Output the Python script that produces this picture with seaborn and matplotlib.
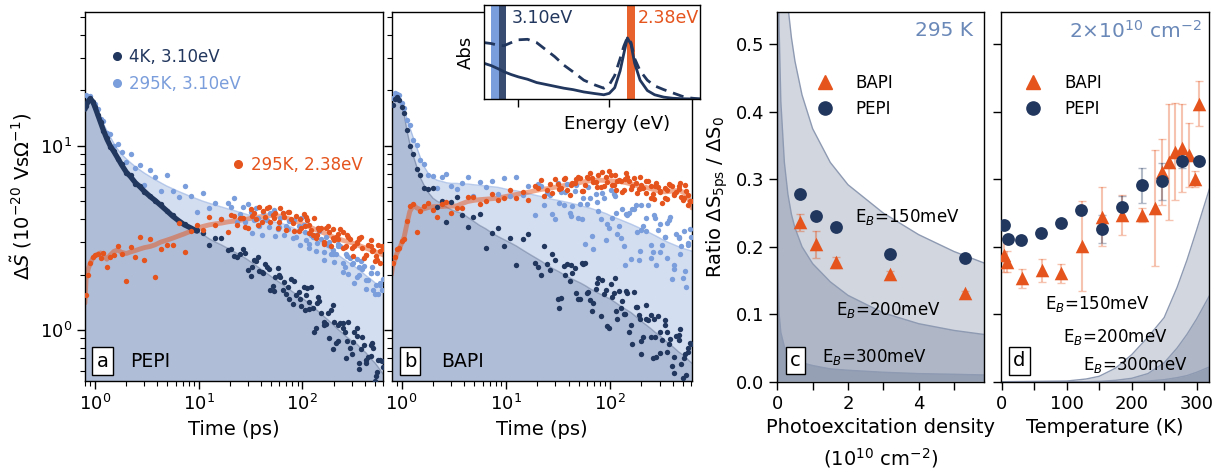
import numpy as np
import matplotlib
matplotlib.use("Agg")
import matplotlib.pyplot as plt
from matplotlib.lines import Line2D
from matplotlib.ticker import LogLocator, MultipleLocator, NullFormatter
import seaborn as sns

# colours
NAVY = "#22375e"
LIGHT = "#7a9ddb"
ORANGE = "#e5541d"
FILL_DARK = "#b0bdd7"
FILL_LIGHT = "#d4def1"
SHADE = "#4a5e80"
EDGE = "#8e9ab2"
STEEL = "#6a88b8"

# ---------------- panels a, b : photoconductivity transients ----------------
scatter_t = [0.82, 0.86, 0.9, 0.95, 1.0, 1.06, 1.13, 1.2, 1.3, 1.4, 1.52, 1.65, 1.8, 2.0, 2.2,
             2.45, 2.7, 3.0, 3.4, 3.8, 4.3, 4.9, 5.6, 6.4, 7.3, 8.4, 9.6, 11, 12.6, 14.5,
             16.5, 19, 22, 25, 28, 32, 36, 41, 46, 52, 58, 65, 73, 82, 92,
             103, 115, 128, 143, 160, 178, 198, 220, 245, 272, 302, 335, 372, 412, 456,
             505, 560]
late_t = [20.5, 23.5, 26.5, 30, 34, 38.5, 43.5, 49, 55, 61.5, 69, 77.5, 87, 97.5, 109,
          121.5, 135.5, 151, 169, 188, 209, 232, 258, 287, 318, 353, 392, 434, 480, 530, 585]
late2_t = [32.5, 37, 42, 47.5, 53.5, 60, 67, 75, 84, 94, 105, 112, 117, 130, 138, 145, 162, 180,
           196, 200, 222, 247, 265, 275, 305, 338, 355, 375, 415, 460, 470, 510, 540, 565, 595]
trend_t = [0.8] + scatter_t + [610]

# PEPI (panel a) smoothed traces
pepi_4k_trend = [15.8, 16.5, 17.5, 18.0, 17.4, 16.2, 14.8, 13.4, 12.2, 10.9, 10.0, 9.3, 8.6, 7.9, 7.2, 6.8,
                 6.3, 6.0, 5.65, 5.3, 5.05, 4.75, 4.45, 4.15, 3.92, 3.72, 3.58, 3.44, 3.3, 3.13, 3.0,
                 2.9, 2.78, 2.66, 2.55, 2.46, 2.34, 2.23, 2.11, 2.02, 1.92, 1.84, 1.76, 1.68, 1.6, 1.53,
                 1.47, 1.4, 1.33, 1.26, 1.19, 1.13, 1.07, 1.01, 0.96, 0.91, 0.87, 0.84, 0.79, 0.75, 0.7,
                 0.66, 0.61, 0.57]
pepi_rt_trend = [18.3, 18.5, 18.6, 18.3, 17.7, 16.7, 15.5, 14.3, 13.2, 12.1, 11.2, 10.3, 9.6, 9.0, 8.5, 8.1,
                 7.7, 7.4, 7.1, 6.8, 6.55, 6.3, 6.05, 5.85, 5.65, 5.48, 5.3, 5.15, 5.0, 4.88, 4.76,
                 4.66, 4.55, 4.45, 4.35, 4.27, 4.17, 4.08, 3.99, 3.93, 3.87, 3.82, 3.77, 3.68, 3.58, 3.48,
                 3.37, 3.26, 3.15, 3.04, 2.92, 2.8, 2.68, 2.56, 2.45, 2.35, 2.26, 2.17, 2.07, 1.97, 1.89,
                 1.8, 1.7, 1.62]
pepi_or_trend = [1.4, 1.9, 2.15, 2.3, 2.45, 2.52, 2.58, 2.62, 2.55, 2.42, 2.55, 2.67, 2.72, 2.64, 2.6, 2.65,
                 2.7, 2.75, 2.8, 2.84, 2.9, 3.0, 3.07, 3.15, 3.24, 3.33, 3.44, 3.56, 3.65, 3.72, 3.77,
                 3.8, 3.86, 3.9, 3.94, 3.98, 4.04, 4.09, 4.14, 4.17, 4.18, 4.16, 4.12, 4.03, 3.94, 3.84,
                 3.74, 3.64, 3.55, 3.45, 3.37, 3.28, 3.2, 3.13, 3.07, 3.02, 2.97, 2.9, 2.84, 2.78, 2.72,
                 2.66, 2.6, 2.55]
# PEPI measured points (scatter_t, then late_t, then late2_t)
pepi_4k_pts = [16.4, 17.6, 18.1, 17.3, 16.3, 14.7, 13.5, 12.1, 11.0, 9.9, 9.4, 8.5, 8.0, 7.1, 6.9,
               6.2, 6.05, 5.6, 5.35, 5.0, 4.8, 4.4, 4.2, 3.85, 3.78, 3.52, 3.5,
               3.36, 2.90, 3.14, 3.16, 2.71, 2.52, 2.57, 2.62, 1.97, 2.36, 2.07, 2.20, 1.73, 2.17, 1.64,
               1.71, 1.39, 1.61, 1.72, 1.30, 1.31, 1.51, 1.06, 1.24, 0.79, 1.07, 1.09, 0.87, 0.74, 1.03,
               0.79, 0.69, 0.83, 0.53, 0.69,
               2.75, 2.48, 2.76, 2.11, 2.39, 2.08, 2.29, 1.64, 1.94, 1.94, 1.57, 1.89, 1.54, 1.35, 1.55,
               1.72, 1.02, 1.24, 1.08, 1.28, 0.85, 1.09, 0.98, 0.80, 0.97, 0.61, 0.83, 0.71, 0.80, 0.59, 0.68,
               2.21, 2.50, 2.05, 2.14, 1.62, 1.98, 1.81, 1.48, 1.84, 1.47, 1.28, 1.68, 1.41, 0.98, 1.40,
               1.44, 1.11, 0.90, 1.36, 1.11, 0.87, 1.03, 0.70, 1.10, 0.86, 0.93, 0.66, 0.92, 0.66, 0.72,
               0.85, 0.56, 0.69, 0.48, 0.63]
pepi_rt_pts = [18.8, 18.3, 18.6, 17.2, 16.9, 15.8, 14.0, 13.6, 11.8, 11.6, 10.0, 10.2, 9.3,
               8.12, 9.05, 7.56, 7.87, 6.14, 7.35, 6.79, 5.68, 6.92, 5.69, 5.24, 6.07, 5.35, 4.36,
               5.55, 4.59, 4.90, 4.01, 4.91, 5.21, 4.26, 3.84, 4.38, 4.61, 3.27, 3.93, 4.22, 3.55, 4.34,
               3.53, 3.15, 3.69, 3.71, 2.77, 3.21, 3.59, 2.66, 2.91, 2.60, 2.87, 2.06, 2.51, 2.28, 1.93,
               2.36, 1.87, 2.04, 1.57, 1.75,
               4.64, 3.87, 4.65, 4.85, 3.96, 3.67, 4.00, 4.33, 3.23, 4.03, 3.65, 3.96, 3.18, 4.04, 3.08,
               3.26, 2.70, 3.13, 3.20, 2.60, 2.59, 2.85, 2.21, 2.46, 1.79, 2.20, 2.22, 1.87, 1.65, 2.03, 1.65,
               3.34, 4.06, 4.37, 3.62, 4.50, 3.64, 3.26, 3.90, 3.95, 2.89, 3.42, 3.94, 2.92, 3.27, 2.98,
               3.43, 2.40, 3.00, 2.72, 2.35, 2.94, 2.31, 2.58, 2.01, 2.32, 2.42, 1.98, 2.13, 1.67, 2.05,
               2.21, 1.75, 1.56, 1.79, 1.89]
pepi_or_pts = [1.55, 2.0, 2.32, 2.5, 2.55, 2.6, 2.45, 2.62, 2.2, 2.48, 2.55, 2.85, 2.6, 1.85, 2.82,
               2.5, 3.2, 2.4, 3.1, 1.95, 2.75, 2.9, 2.9, 3.8, 2.65, 3.45, 3.7,
               3.50, 4.11, 3.71, 4.01, 3.40, 4.18, 4.07, 3.63, 4.56, 3.99, 3.88, 4.57, 4.21, 3.59, 4.32,
               4.35, 3.81, 3.44, 4.28, 3.73, 3.29, 3.59, 2.94, 3.65, 3.17, 3.33, 2.78, 3.29, 2.80, 2.95,
               3.18, 2.56, 2.85, 2.36, 2.68,
               4.22, 3.73, 4.06, 3.56, 4.32, 4.67, 4.08, 3.85, 4.34, 4.57, 3.49, 3.99, 4.17, 3.58, 4.13,
               3.48, 3.16, 3.57, 3.59, 2.85, 3.21, 3.55, 2.83, 3.10, 2.87, 3.16, 2.45, 2.90, 2.71, 2.40, 2.87,
               4.14, 3.71, 4.40, 4.67, 4.05, 3.85, 4.13, 4.37, 3.43, 4.00, 3.66, 3.93, 3.34, 4.05, 3.29,
               3.51, 3.01, 3.40, 3.52, 3.07, 3.10, 3.41, 2.84, 3.19, 2.52, 2.99, 3.11, 2.77, 2.54, 3.07,
               2.70, 2.53, 2.90, 2.31, 2.76]

# BAPI (panel b) smoothed traces
bapi_4k_trend = [16.0, 16.8, 17.8, 18.3, 18.0, 16.5, 14.8, 12.0, 10.3, 8.8, 7.7, 6.7, 6.1, 5.6, 5.2, 5.0,
                 4.85, 4.65, 4.5, 4.38, 4.3, 4.1, 3.9, 3.7, 3.55, 3.38, 3.22, 3.1, 2.98, 2.86, 2.72,
                 2.6, 2.48, 2.36, 2.25, 2.16, 2.08, 2.0, 1.92, 1.86, 1.8, 1.74, 1.67, 1.61, 1.56, 1.51,
                 1.46, 1.4, 1.34, 1.29, 1.24, 1.18, 1.12, 1.07, 1.02, 0.97, 0.93, 0.88, 0.84, 0.8, 0.76,
                 0.73, 0.69, 0.66]
bapi_rt_trend = [17.5, 18.0, 19.0, 19.3, 18.8, 17.4, 15.8, 14.0, 12.6, 11.0, 9.8, 8.6, 7.7, 7.1, 6.7, 6.5,
                 6.4, 6.3, 6.25, 6.25, 6.2, 6.2, 6.15, 6.1, 6.05, 6.0, 5.95, 5.85, 5.75, 5.7, 5.6,
                 5.5, 5.4, 5.3, 5.2, 5.12, 5.05, 4.98, 4.9, 4.82, 4.74, 4.66, 4.58, 4.48, 4.38, 4.28,
                 4.15, 4.05, 3.95, 3.85, 3.75, 3.65, 3.55, 3.45, 3.35, 3.25, 3.15, 3.05, 2.97, 2.9, 2.83,
                 2.77, 2.72, 2.68]
bapi_or_trend = [2.0, 2.2, 2.4, 2.6, 2.75, 2.95, 3.2, 3.8, 4.4, 4.75, 4.6, 4.5, 4.55, 4.62, 4.67, 4.68,
                 4.68, 4.7, 4.7, 4.72, 4.85, 4.98, 5.05, 5.1, 5.13, 5.16, 5.2, 5.28, 5.36, 5.44, 5.52,
                 5.6, 5.7, 5.8, 5.85, 5.92, 6.0, 6.08, 6.18, 6.25, 6.32, 6.4, 6.46, 6.5, 6.5, 6.48,
                 6.45, 6.42, 6.38, 6.3, 6.2, 6.1, 6.0, 5.95, 5.85, 5.75, 5.65, 5.62, 5.65, 5.7, 5.72,
                 5.6, 5.3, 4.6]
bapi_4k_pts = [16.6, 17.9, 18.4, 17.7, 16.2, 15.0, 12.2, 10.0, 9.0, 7.5, 6.9, 5.9, 5.8,
               5.89, 4.64, 5.02, 3.87, 4.93, 5.27, 4.20, 3.61, 4.13, 4.28, 2.78, 3.38, 3.57, 2.84,
               3.14, 2.24, 3.11, 3.30, 2.30, 1.98, 2.29, 2.59, 1.48, 2.22, 1.85, 2.16, 1.48, 2.30, 1.46,
               1.67, 1.19, 1.65, 1.78, 1.27, 1.32, 1.62, 1.06, 1.33, 0.74, 1.15, 1.20, 0.92, 0.75, 1.13,
               0.84, 0.71, 0.94, 0.55, 0.80,
               2.20, 2.84, 2.12, 2.39, 1.49, 2.28, 2.03, 1.47, 2.28, 1.61, 1.40, 1.92, 1.56, 1.03, 1.58,
               1.62, 1.22, 0.97, 1.60, 1.21, 0.92, 1.13, 0.70, 1.19, 0.88, 0.98, 0.64, 0.93, 0.65, 0.74, 0.85,
               1.32, 1.98, 2.25, 1.59, 2.31, 1.58, 1.26, 1.79, 1.86, 1.05, 1.51, 1.92, 1.14, 1.44, 1.22,
               1.59, 0.84, 1.33, 1.15, 0.87, 1.36, 0.91, 1.14, 0.71, 0.98, 1.07, 0.76, 0.89, 0.58, 0.88,
               1.01, 0.70, 0.57, 0.76, 0.84]
bapi_rt_pts = [18.2, 19.3, 19.1, 18.9, 17.0, 16.1, 13.8, 12.9, 10.8, 10.1, 8.4, 8.0, 6.9,
               6.86, 5.88, 6.81, 7.06, 6.05, 5.80, 6.25, 6.75, 5.36, 6.39, 5.95, 6.43, 5.47, 6.69,
               5.32, 6.81, 5.43, 6.08, 4.19, 6.02, 5.51, 4.28, 6.26, 4.76, 4.31, 5.69, 4.84, 2.92, 5.18,
               5.47, 3.99, 3.06, 5.79, 4.32, 3.17, 4.27, 2.43, 4.77, 3.47, 4.06, 2.47, 4.04, 2.66, 3.18,
               3.95, 2.26, 3.20, 1.92, 2.96,
               6.23, 4.78, 5.39, 4.01, 5.61, 6.20, 4.71, 4.06, 5.22, 5.94, 2.74, 4.43, 5.19, 3.57, 5.45,
               3.65, 2.87, 4.30, 4.51, 2.41, 3.65, 4.75, 2.65, 3.48, 2.90, 3.80, 1.90, 3.30, 2.86, 2.08, 3.53,
               4.89, 5.63, 4.16, 6.11, 4.00, 4.84, 3.25, 4.95, 5.51, 3.78, 4.04, 5.34, 3.33, 4.55, 2.26,
               4.19, 4.56, 3.40, 2.70, 4.79, 3.44, 2.90, 4.22, 2.24, 3.76, 3.18, 2.47, 4.08, 2.13, 3.14,
               2.57, 3.44, 1.72, 2.90, 3.18]
bapi_or_pts = [2.3, 2.5, 2.75, 2.8, 3.05, 3.1, 3.9, 4.7, 4.8, 3.4, 4.4, 4.7, 4.9, 4.5, 4.1,
               4.8, 4.95, 4.3, 4.6, 4.6, 5.25, 5.3, 4.85, 5.0, 5.5, 5.05, 5.2,
               5.77, 5.21, 5.64, 5.05, 6.02, 6.49, 5.77, 5.51, 6.21, 6.63, 5.40, 6.25, 6.72, 6.09, 7.14,
               6.32, 5.95, 6.75, 6.90, 5.75, 6.47, 7.09, 5.81, 6.27, 5.87, 6.45, 5.19, 6.03, 5.69, 5.19,
               6.20, 5.50, 6.04, 5.09, 5.41,
               5.87, 5.34, 6.21, 6.59, 5.87, 5.74, 6.26, 6.76, 5.65, 6.70, 6.39, 6.91, 6.04, 7.29, 6.12,
               6.49, 5.76, 6.47, 6.67, 5.84, 5.93, 6.48, 5.48, 5.98, 4.88, 5.79, 6.07, 5.59, 5.24, 6.12, 5.00,
               5.80, 6.66, 6.10, 6.57, 5.67, 6.81, 6.65, 6.00, 7.23, 6.34, 6.09, 6.97, 6.45, 5.61, 6.60,
               6.73, 6.02, 5.54, 6.77, 6.13, 5.57, 6.04, 5.13, 6.30, 5.61, 5.93, 5.16, 6.09, 5.42, 5.80,
               6.31, 5.19, 5.68, 4.78, 5.04]

# inset: absorption spectra
abs_energy = [3.19, 3.15, 3.11, 3.08, 3.04, 3.0, 2.95, 2.9, 2.85, 2.8, 2.75, 2.7, 2.64, 2.58, 2.53,
              2.5, 2.47, 2.44, 2.42, 2.40, 2.38, 2.36, 2.33, 2.29, 2.25, 2.2, 2.15, 2.1, 2.05, 2.0]
abs_dashed = [0.60, 0.59, 0.57, 0.567, 0.60, 0.63, 0.635, 0.60, 0.525, 0.45, 0.36, 0.29, 0.20, 0.15, 0.115,
              0.15, 0.25, 0.43, 0.56, 0.655, 0.60, 0.43, 0.30, 0.2, 0.14, 0.10, 0.065, 0.03, 0.01, 0.0]
abs_solid = [0.38, 0.355, 0.32, 0.29, 0.26, 0.235, 0.21, 0.175, 0.155, 0.135, 0.115, 0.1, 0.075, 0.058, 0.045,
             0.06, 0.12, 0.3, 0.48, 0.65, 0.58, 0.38, 0.2, 0.09, 0.045, 0.02, 0.008, 0.003, 0.001, 0.0]
band_rt = [3.108, 3.149]
band_4k = [3.07, 3.108]
band_green = [2.36, 2.40]
inset_ticks = [3.0, 2.5]

# ---------------- panel c : density dependence at 295 K ----------------
density = [0.65, 1.1, 1.67, 3.2, 5.31]
pepi_ratio_c = [0.278, 0.246, 0.230, 0.190, 0.184]
pepi_err_c = [0.004, 0.004, 0.004, 0.004, 0.004]
bapi_ratio_c = [0.236, 0.204, 0.177, 0.160, 0.131]
bapi_err_c = [0.012, 0.020, 0.008, 0.004, 0.004]
dens_curve = [0.0, 0.01, 0.02, 0.05, 0.1, 0.2, 0.3, 0.4, 0.5, 0.7, 1.0, 1.5, 2.0, 3.0, 4.0, 5.0, 5.85]
eb150_c = [1.0, 0.956, 0.919, 0.834, 0.74, 0.626, 0.557, 0.51, 0.475, 0.425, 0.375, 0.325, 0.292, 0.25, 0.218, 0.193, 0.176]
eb200_c = [1.0, 0.788, 0.683, 0.527, 0.415, 0.325, 0.278, 0.248, 0.228, 0.2, 0.175, 0.148, 0.128, 0.102, 0.086, 0.076, 0.07]
eb300_c = [1.0, 0.213, 0.156, 0.102, 0.073, 0.052, 0.043, 0.037, 0.033, 0.028, 0.024, 0.019, 0.017, 0.014, 0.012, 0.011, 0.010]

# ---------------- panel d : temperature dependence ----------------
temp_pepi = [3.5, 10, 30, 61, 92, 122.5, 154, 185, 216, 246.6, 277, 303]
pepi_ratio_d = [0.232, 0.211, 0.210, 0.221, 0.235, 0.255, 0.226, 0.259, 0.291, 0.297, 0.327, 0.327]
pepi_err_d = [0.004, 0.004, 0.004, 0.006, 0.005, 0.006, 0.021, 0.016, 0.026, 0.027, 0.010, 0.004]
temp_bapi = [3.5, 8.7, 31, 61.5, 92, 123, 154, 185, 216, 236, 247, 257, 267, 277, 288, 298, 303]
bapi_ratio_d = [0.188, 0.178, 0.153, 0.165, 0.161, 0.2015, 0.2445, 0.247, 0.247, 0.258, 0.311, 0.326,
                0.341, 0.346, 0.336, 0.300, 0.412]
bapi_err_d = [0.025, 0.015, 0.0136, 0.017, 0.014, 0.067, 0.044, 0.030, 0.010, 0.086, 0.049, 0.086,
              0.072, 0.065, 0.048, 0.012, 0.033]
temp_curve = [0, 100, 130, 150, 175, 200, 225, 250, 270, 285, 300, 320]
eb150_d = [0, 0.001, 0.004, 0.008, 0.02, 0.04, 0.066, 0.095, 0.14, 0.18, 0.225, 0.287]
eb200_d = [0, 0, 0, 0.0005, 0.002, 0.005, 0.012, 0.028, 0.05, 0.07, 0.093, 0.128]
eb300_d = [0, 0, 0, 0, 0, 0.0003, 0.001, 0.003, 0.006, 0.009, 0.014, 0.022]

sns.set_theme(style="ticks", rc={
    "axes.edgecolor": "black", "axes.linewidth": 1.0,
    "xtick.color": "black", "ytick.color": "black",
    "xtick.major.size": 6, "ytick.major.size": 6,
    "xtick.minor.size": 3.5, "ytick.minor.size": 3.5,
    "xtick.major.width": 1.0, "ytick.major.width": 1.0,
    "xtick.minor.width": 0.8, "ytick.minor.width": 0.8,
    "xtick.labelsize": 13, "ytick.labelsize": 13,
    "axes.labelsize": 14, "axes.labelcolor": "black", "text.color": "black",
})
plt.rcParams["font.family"] = ["DejaVu Sans"]
plt.rcParams["mathtext.fontset"] = "dejavusans"

fig = plt.figure(figsize=(12.22, 4.70), dpi=100)
ax_a = fig.add_axes([85 / 1222, 89 / 470, 298 / 1222, 369 / 470])
ax_b = fig.add_axes([392 / 1222, 89 / 470, 300 / 1222, 369 / 470], sharey=ax_a)
ax_c = fig.add_axes([777.3 / 1222, 88.3 / 470, 206.7 / 1222, 369.7 / 470])
ax_d = fig.add_axes([1001 / 1222, 88.3 / 470, 208 / 1222, 369.7 / 470], sharey=ax_c)
ax_in = fig.add_axes([484 / 1222, 371 / 470, 216 / 1222, 94 / 470])

all_t = scatter_t + late_t + late2_t


def box_label(ax, x, y, letter):
    ax.text(x, y, letter, transform=ax.transAxes, fontsize=14, ha="center", va="center", zorder=6,
            bbox=dict(boxstyle="square,pad=0.22", fc="white", ec="black", lw=1.0))


def decay_panel(ax, dark_tr, light_tr, or_tr, dark_pts, light_pts, or_pts, dense_early):
    ax.set_xscale("log")
    ax.set_yscale("log")
    ax.fill_between(trend_t, 0.1, light_tr, color=FILL_LIGHT, lw=0, zorder=1)
    ax.fill_between(trend_t, 0.1, dark_tr, color=FILL_DARK, lw=0, zorder=1.2)
    sns.lineplot(x=trend_t, y=light_tr, ax=ax, color=LIGHT, lw=1.0, alpha=0.5,
                 estimator=None, sort=False, zorder=2)
    sns.lineplot(x=trend_t, y=dark_tr, ax=ax, color=NAVY, lw=1.0, alpha=0.3,
                 estimator=None, sort=False, zorder=2)
    sns.lineplot(x=trend_t, y=or_tr, ax=ax, color=ORANGE, lw=3.5, alpha=0.5,
                 estimator=None, sort=False, zorder=2.5)
    sns.scatterplot(x=all_t, y=light_pts, ax=ax, color=LIGHT, s=15, linewidth=0, zorder=3)
    sns.scatterplot(x=all_t, y=dark_pts, ax=ax, color=NAVY, s=15, linewidth=0, zorder=3.2)
    sns.scatterplot(x=all_t, y=or_pts, ax=ax, color=ORANGE, s=15, linewidth=0, zorder=3.4)
    if dense_early:
        t = np.array(trend_t)
        v = np.array(dark_tr)
        m = t <= 10
        sns.lineplot(x=t[m], y=v[m], ax=ax, color=NAVY, lw=3.8, estimator=None, sort=False, zorder=3.3)
    ax.xaxis.set_major_locator(LogLocator(base=10, numticks=10))
    ax.xaxis.set_minor_locator(LogLocator(base=10, subs=np.arange(2, 10), numticks=20))
    ax.xaxis.set_minor_formatter(NullFormatter())
    ax.set_xlabel("Time (ps)")


decay_panel(ax_a, pepi_4k_trend, pepi_rt_trend, pepi_or_trend, pepi_4k_pts, pepi_rt_pts, pepi_or_pts, True)
decay_panel(ax_b, bapi_4k_trend, bapi_rt_trend, bapi_or_trend, bapi_4k_pts, bapi_rt_pts, bapi_or_pts, False)
ax_a.set_xlim(0.8, 600)
ax_b.set_xlim(0.81, 612)
ax_a.set_ylim(0.528, 53.3)
ax_a.yaxis.set_major_locator(LogLocator(base=10, numticks=10))
ax_a.yaxis.set_minor_locator(LogLocator(base=10, subs=np.arange(2, 10), numticks=20))
ax_a.yaxis.set_minor_formatter(NullFormatter())
ax_b.tick_params(labelleft=False)
ax_a.set_ylabel(r"$\Delta\tilde{S}$ ($10^{-20}$ Vs$\Omega^{-1}$)")

h1 = [Line2D([], [], ls="none", marker="o", ms=5.5, color=NAVY, label="4K, 3.10eV"),
      Line2D([], [], ls="none", marker="o", ms=5.5, color=LIGHT, label="295K, 3.10eV")]
leg1 = ax_a.legend(handles=h1, loc="upper left", bbox_to_anchor=(0.092, 0.903), frameon=False,
                   fontsize=12, handlelength=0.5, handletextpad=0.5, labelspacing=0.55,
                   borderpad=0, borderaxespad=0, labelcolor="markerfacecolor")
ax_a.add_artist(leg1)
h2 = [Line2D([], [], ls="none", marker="o", ms=5.5, color=ORANGE, label="295K, 2.38eV")]
ax_a.legend(handles=h2, loc="upper left", bbox_to_anchor=(0.50, 0.611), frameon=False,
            fontsize=12, handlelength=0.5, handletextpad=0.5, borderpad=0, borderaxespad=0,
            labelcolor="markerfacecolor")

box_label(ax_a, 0.059, 0.054, "a")
ax_a.text(0.151, 0.054, "PEPI", transform=ax_a.transAxes, fontsize=13.5, va="center", zorder=6)
box_label(ax_b, 0.06, 0.054, "b")
ax_b.text(0.163, 0.054, "BAPI", transform=ax_b.transAxes, fontsize=13.5, va="center", zorder=6)

# inset
ax_in.set_facecolor("white")
ax_in.axvspan(band_rt[0], band_rt[1], color=LIGHT, lw=0)
ax_in.axvspan(band_4k[0], band_4k[1], color="#384b70", lw=0)
ax_in.axvspan(band_green[0], band_green[1], color="#e8622d", lw=0)
sns.lineplot(x=abs_energy, y=abs_dashed, ax=ax_in, color=NAVY, lw=2.0, dashes=(4, 2.5),
             estimator=None, sort=False)
sns.lineplot(x=abs_energy, y=abs_solid, ax=ax_in, color=NAVY, lw=2.0, estimator=None, sort=False)
ax_in.set_xlim(3.19, 2.0)
ax_in.set_ylim(0, 1)
ax_in.set_yticks([])
ax_in.set_xticks(inset_ticks)
ax_in.set_xticklabels([])
ax_in.set_xlabel("Energy (eV)", fontsize=13)
ax_in.xaxis.set_label_coords(0.618, -0.17)
ax_in.set_ylabel("Abs", fontsize=13)
ax_in.yaxis.set_label_coords(-0.042, 0.5)
ax_in.text(0.13, 0.86, "3.10eV", transform=ax_in.transAxes, color=NAVY, fontsize=12.5, va="center")
ax_in.text(0.713, 0.86, "2.38eV", transform=ax_in.transAxes, color=ORANGE, fontsize=12.5, va="center")

# panel c
for curve in (eb150_c, eb200_c, eb300_c):
    ax_c.fill_between(dens_curve, 0, curve, color=SHADE, alpha=0.25, lw=0, zorder=0.5)
    sns.lineplot(x=dens_curve, y=curve, ax=ax_c, color=EDGE, lw=1.0, estimator=None, sort=False, zorder=0.6)
ax_c.errorbar(density, bapi_ratio_c, yerr=bapi_err_c, fmt="none", ecolor=ORANGE, alpha=0.4,
              elinewidth=1.5, capsize=3, zorder=2)
ax_c.errorbar(density, pepi_ratio_c, yerr=pepi_err_c, fmt="none", ecolor=NAVY, alpha=0.35,
              elinewidth=1.5, capsize=3, zorder=2)
sns.scatterplot(x=density, y=bapi_ratio_c, ax=ax_c, marker="^", s=95, color=ORANGE, linewidth=0, zorder=3)
sns.scatterplot(x=density, y=pepi_ratio_c, ax=ax_c, marker="o", s=85, color=NAVY, linewidth=0, zorder=3)
ax_c.set_xlim(0, 5.85)
ax_c.set_ylim(0, 0.548)
ax_c.xaxis.set_major_locator(MultipleLocator(2))
ax_c.xaxis.set_minor_locator(MultipleLocator(1))
ax_c.yaxis.set_major_locator(MultipleLocator(0.1))
ax_c.tick_params(axis="x", which="minor", length=6, width=1.0)
ax_c.set_xlabel("Photoexcitation density\n(10$^{10}$ cm$^{-2}$)", linespacing=1.45)
ax_c.set_ylabel(r"Ratio $\Delta$S$_{\mathrm{5ps}}$ / $\Delta$S$_0$")
ax_c.text(0.945, 0.95, "295 K", transform=ax_c.transAxes, ha="right", va="center", fontsize=14.5, color=STEEL)
ax_c.text(0.378, 0.446, r"E$_B$=150meV", transform=ax_c.transAxes, fontsize=12, va="center")
ax_c.text(0.284, 0.194, r"E$_B$=200meV", transform=ax_c.transAxes, fontsize=12, va="center")
ax_c.text(0.215, 0.068, r"E$_B$=300meV", transform=ax_c.transAxes, fontsize=12, va="center")
box_label(ax_c, 0.087, 0.057, "c")

# panel d
for curve in (eb150_d, eb200_d, eb300_d):
    ax_d.fill_between(temp_curve, 0, curve, color=SHADE, alpha=0.25, lw=0, zorder=0.5)
    sns.lineplot(x=temp_curve, y=curve, ax=ax_d, color=EDGE, lw=1.0, estimator=None, sort=False, zorder=0.6)
ax_d.errorbar(temp_bapi, bapi_ratio_d, yerr=bapi_err_d, fmt="none", ecolor=ORANGE, alpha=0.35,
              elinewidth=1.5, capsize=3, zorder=2)
ax_d.errorbar(temp_pepi, pepi_ratio_d, yerr=pepi_err_d, fmt="none", ecolor=NAVY, alpha=0.35,
              elinewidth=1.5, capsize=3, zorder=2)
sns.scatterplot(x=temp_bapi, y=bapi_ratio_d, ax=ax_d, marker="^", s=95, color=ORANGE, linewidth=0, zorder=3)
sns.scatterplot(x=temp_pepi, y=pepi_ratio_d, ax=ax_d, marker="o", s=85, color=NAVY, linewidth=0, zorder=3)
ax_d.set_xlim(-1, 319)
ax_d.xaxis.set_major_locator(MultipleLocator(100))
ax_d.xaxis.set_minor_locator(MultipleLocator(50))
ax_d.tick_params(axis="x", which="minor", length=6, width=1.0)
ax_d.tick_params(labelleft=False)
ax_d.set_xlabel("Temperature (K)")
ax_d.text(0.965, 0.95, r"2$\times$10$^{10}$ cm$^{-2}$", transform=ax_d.transAxes, ha="right", va="center",
          fontsize=14.5, color=STEEL)
ax_d.text(0.212, 0.21, r"E$_B$=150meV", transform=ax_d.transAxes, fontsize=12, va="center")
ax_d.text(0.299, 0.12, r"E$_B$=200meV", transform=ax_d.transAxes, fontsize=12, va="center")
ax_d.text(0.392, 0.045, r"E$_B$=300meV", transform=ax_d.transAxes, fontsize=12, va="center")
box_label(ax_d, 0.088, 0.056, "d")

hcd = [Line2D([], [], ls="none", marker="^", ms=9.5, color=ORANGE, label="BAPI"),
       Line2D([], [], ls="none", marker="o", ms=9.5, color=NAVY, label="PEPI")]
ax_c.legend(handles=hcd, loc="upper left", bbox_to_anchor=(0.19, 0.832), frameon=False, fontsize=12,
            handlelength=1.0, handletextpad=1.34, labelspacing=0.45, borderpad=0, borderaxespad=0)
ax_d.legend(handles=hcd, loc="upper left", bbox_to_anchor=(0.1125, 0.832), frameon=False, fontsize=12,
            handlelength=1.0, handletextpad=1.4, labelspacing=0.45, borderpad=0, borderaxespad=0)

fig.savefig("out.png", dpi=100)
